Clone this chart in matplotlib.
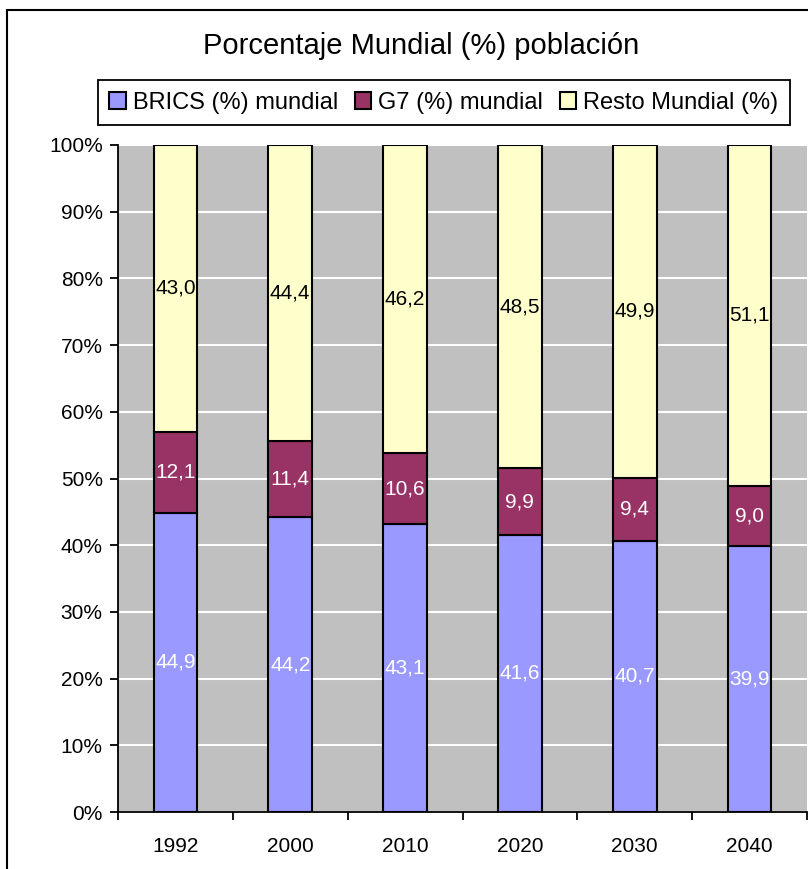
import matplotlib.pyplot as plt
from matplotlib.patches import Rectangle
import numpy as np

plt.rcParams['font.family'] = ['Liberation Sans', 'DejaVu Sans']

# data
years = ['1992', '2000', '2010', '2020', '2030', '2040']
brics = [44.9, 44.2, 43.1, 41.6, 40.7, 39.9]
g7 = [12.1, 11.4, 10.6, 9.9, 9.4, 9.0]
resto = [43.0, 44.4, 46.2, 48.5, 49.9, 51.1]
series_names = ['BRICS (%) mundial', 'G7 (%) mundial', 'Resto Mundial (%)']
colors = ['#9999FF', '#993366', '#FFFFCC']
label_colors = ['white', 'white', 'black']

fig = plt.figure(figsize=(8.08, 8.69), dpi=100)
ax = fig.add_axes([118/808, 1 - 812/869, 689/808, 667/869])
ax.set_facecolor('#C0C0C0')

# 100% stacked -> normalize each year to its total
data = np.array([brics, g7, resto])
shares = data / data.sum(axis=0) * 100
x = np.arange(len(years))
bottom = np.zeros(len(years))
handles = []
for i in range(3):
    bars = ax.bar(x, shares[i], width=0.38, bottom=bottom, color=colors[i],
                  edgecolor='black', linewidth=1.5, zorder=3, label=series_names[i])
    ax.bar_label(bars, labels=[f'{v:.1f}'.replace('.', ',') for v in data[i]],
                 label_type='center', color=label_colors[i], fontsize=15)
    bottom += shares[i]
    handles.append(bars)

ax.set_xlim(-0.5, len(years) - 0.5)
ax.set_ylim(0, 100)
ax.set_yticks(np.arange(0, 101, 10))
ax.set_yticklabels([f'{t}%' for t in range(0, 101, 10)], fontsize=15)
ax.yaxis.grid(True, color='white', linewidth=1.5, zorder=1)
ax.set_axisbelow(True)

ax.set_xticks(x)
ax.set_xticklabels(years, fontsize=15)
ax.set_xticks(np.arange(-0.5, len(years)), minor=True)
ax.tick_params(axis='x', which='major', length=0, pad=18)
ax.tick_params(axis='x', which='minor', length=6, width=1.3, direction='out')
ax.tick_params(axis='y', length=6, width=1.3, direction='out', pad=5)

for s in ['top', 'right']:
    ax.spines[s].set_visible(False)
for s in ['left', 'bottom']:
    ax.spines[s].set_linewidth(1.3)

fig.text(421/808, 1 - 46/869, 'Porcentaje Mundial (%) población',
         ha='center', va='center', fontsize=21)

leg = fig.legend(handles=handles, loc='center', bbox_to_anchor=(444/808, 1 - 102.5/869),
                 ncol=3, fontsize=17, frameon=True, fancybox=False, framealpha=1,
                 edgecolor='black', handlelength=0.7, handleheight=0.7,
                 handletextpad=0.3, columnspacing=0.7, borderpad=0.5)
leg.get_frame().set_linewidth(1.3)

# chart area border, clipped by the image on the right and bottom
fig.patches.append(Rectangle((7/808, -0.1), 1.2, (869 - 10)/869 + 0.1,
                             transform=fig.transFigure, fill=False,
                             edgecolor='black', linewidth=1.5))

fig.savefig('out.png', dpi=100)
